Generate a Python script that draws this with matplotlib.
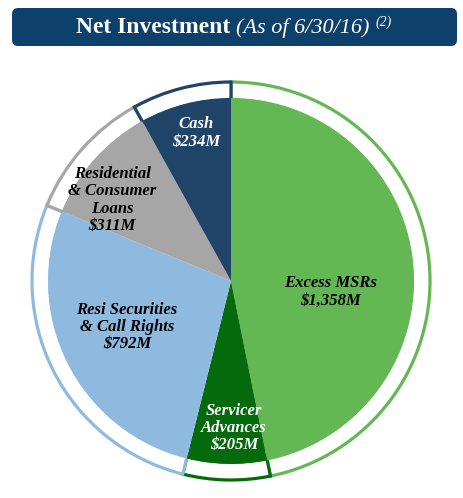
import matplotlib
matplotlib.use("Agg")
import matplotlib.pyplot as plt
from matplotlib.patches import FancyBboxPatch

# data
categories = ["Excess MSRs", "Servicer\nAdvances", "Resi Securities\n& Call Rights",
              "Residential\n& Consumer\nLoans", "Cash"]
values = [1358, 205, 792, 311, 234]
value_labels = ["$1,358M", "$205M", "$792M", "$311M", "$234M"]
colors = ["#64b853", "#046a0c", "#8fbadf", "#a6a6a6", "#1f4468"]
text_colors = ["black", "white", "black", "black", "white"]

W, H = 464, 498
fig = plt.figure(figsize=(W / 100, H / 100), dpi=100)
ax = fig.add_axes([0, 0, 1, 1])

cx, cy = 231, H - 281
r_pie, r_ring = 183, 199

# outer white ring with coloured outlines
ring, _ = ax.pie(values, radius=r_ring, center=(cx, cy), startangle=90,
                 counterclock=False, frame=True,
                 wedgeprops=dict(width=r_ring - r_pie + 2, linewidth=2.3,
                                 facecolor="white"))
for w, c in zip(ring, colors):
    w.set_edgecolor(c)
    w.set_facecolor("white")

wedges, _ = ax.pie(values, radius=r_pie, center=(cx, cy), startangle=90,
                   counterclock=False, colors=colors, frame=True,
                   wedgeprops=dict(linewidth=0))

ax.set_xlim(0, W)
ax.set_ylim(0, H)
ax.set_aspect("equal")
ax.axis("off")

font = ["Liberation Serif", "DejaVu Serif"]
label_pos = [(331, 292), (234, 428), (127, 327), (112, 200), (196, 133)]
for cat, val, (x, y), tc in zip(categories, value_labels, label_pos, text_colors):
    ax.text(x, H - y, cat + "\n" + val, ha="center", va="center", color=tc,
            fontsize=12, fontweight="bold", fontstyle="italic", family=font,
            linespacing=1.1)

# title banner
banner = FancyBboxPatch((12, H - 46), 445, 38, boxstyle="round,pad=0,rounding_size=6",
                        facecolor="#0d406a", edgecolor="none")
ax.add_patch(banner)

renderer = fig.canvas.get_renderer()
parts = [("Net Investment ", dict(fontweight="bold", fontsize=17), 0),
         ("(As of 6/30/16) ", dict(fontstyle="italic", fontsize=16), 0),
         ("(2)", dict(fontstyle="italic", fontsize=10), 7)]
texts = []
x0 = 0
for s, kw, dy in parts:
    t = ax.text(x0, H - 33 + dy, s, color="white", family=font, ha="left",
                va="baseline", **kw)
    bb = t.get_window_extent(renderer)
    texts.append((t, dy))
    x0 += bb.width
total = x0
start = 234 - total / 2
x0 = start
for t, dy in texts:
    w = t.get_window_extent(renderer).width
    t.set_x(x0)
    x0 += w

fig.savefig("out.png", dpi=100)
